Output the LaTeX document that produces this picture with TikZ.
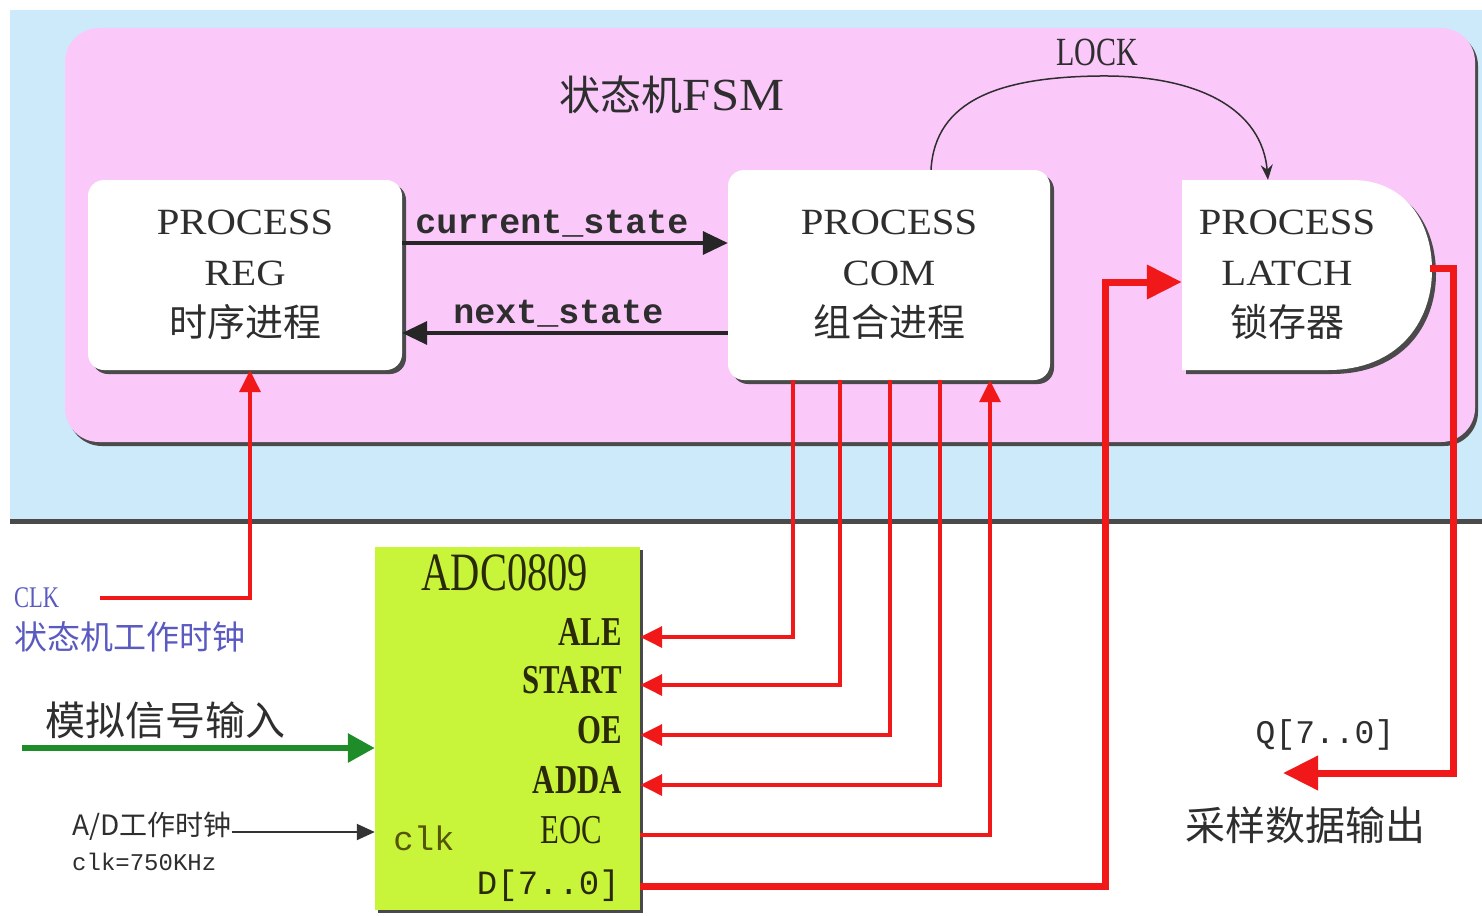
\documentclass[tikz,border=0pt]{standalone}
\usepackage{fontspec}
\setmainfont{Liberation Serif}
\setmonofont{Liberation Mono}
\newfontfamily\cjk{Noto Sans CJK SC}
\newfontfamily\condserif[FakeStretch=0.75]{Liberation Serif}
\newfontfamily\wideserif[FakeStretch=1.1]{Liberation Serif}
\usetikzlibrary{arrows.meta,positioning,shadows}
\definecolor{fsBlue}{HTML}{CCEAF9}
\definecolor{fsPink}{HTML}{FBC8FA}
\definecolor{fsShadow}{HTML}{4A4A4A}
\definecolor{adcLime}{HTML}{C8F43A}
\definecolor{sigRed}{HTML}{F01818}
\definecolor{clkBlue}{HTML}{5A5AC0}
\definecolor{anaGreen}{HTML}{1E8C28}
\definecolor{txtGray}{HTML}{2E2E2E}
\definecolor{adcInk}{HTML}{2A2A08}
\tikzset{
  fsmbox/.style={fill=fsPink, rounded corners=34pt, minimum width=1410pt, minimum height=414pt, drop shadow={shadow xshift=3pt, shadow yshift=-4pt, fill=fsShadow, opacity=1}},
  proctext/.style={inner sep=0pt, align=center, text=txtGray, font=\wideserif\fontsize{37}{51}\selectfont},
  proc/.style={proctext, fill=white, rounded corners=16pt, minimum width=314pt, minimum height=190pt, drop shadow={shadow xshift=4pt, shadow yshift=-4pt, fill=fsShadow, opacity=1}},
  fsmtitle/.style={inner sep=0pt, text=txtGray, font=\wideserif\fontsize{46}{46}\selectfont},
  locklbl/.style={inner sep=0pt, text=txtGray, font=\condserif\fontsize{40}{40}\selectfont},
  stlbl/.style={inner sep=2pt, text=txtGray, font=\ttfamily\bfseries\fontsize{35}{35}\selectfont},
  adcbox/.style={fill=adcLime, minimum width=265pt, minimum height=363pt, drop shadow={shadow xshift=3pt, shadow yshift=-3pt, fill=fsShadow, opacity=1}},
  adcname/.style={inner sep=0pt, text=adcInk, font=\condserif\fontsize{54}{54}\selectfont},
  portlbl/.style={anchor=east, inner sep=0pt, text height=28pt, text depth=12pt, text=adcInk, font=\condserif\bfseries\fontsize{41}{41}\selectfont},
  cnlbl/.style={inner sep=0pt, text=txtGray, font=\cjk\fontsize{40}{40}\selectfont},
  clklbl/.style={inner sep=0pt, text=clkBlue, font=\condserif\fontsize{30}{30}\selectfont},
  smalltxt/.style={inner sep=0pt, text=txtGray, font=\cjk\fontsize{28}{28}\selectfont},
  arr/.style={-{Triangle[length=25pt,width=23pt]}, line width=3.5pt, draw=black!85},
  lockarr/.style={-{Stealth[length=15pt,width=12pt]}, line width=1.5pt, draw=txtGray},
  sig/.style={-{Triangle[length=22pt,width=21pt]}, line width=3.5pt, draw=sigRed},
  bus/.style={-{Triangle[length=35pt,width=33pt]}, line width=7pt, draw=sigRed},
  ana/.style={-{Triangle[length=27pt,width=28pt]}, line width=6pt, draw=anaGreen},
  thinarr/.style={-{Triangle[length=18pt,width=16pt]}, line width=2pt, draw=black!80},
}
\begin{document}
\begin{tikzpicture}[x=1pt, y=-1pt]
  \useasboundingbox (0,0) rectangle (1482,915);
  % FSM part
  \fill[fsBlue] (10,10) rectangle (1482,519);
  \draw[line width=5pt, fsShadow] (10,521) -- (1482,521);
  \node[fsmbox] (fsm) at (770,235) {};
  \node[fsmtitle] (fsmname) at (672,95) {{\cjk\fontsize{41}{46}\selectfont 状态机}FSM};
  \node[proc] (reg) at (245,275) {PROCESS\\REG\\{\cjk\fontsize{38}{51}\selectfont 时序进程}};
  \node[proc, minimum width=322pt, minimum height=210pt] (com) at (889,275) {PROCESS\\COM\\{\cjk\fontsize{38}{51}\selectfont 组合进程}};
  \path[fill=white, drop shadow={shadow xshift=4pt, shadow yshift=-4pt, fill=fsShadow, opacity=1}]
    (1182,180) -- (1352,180) .. controls (1405,180) and (1432,222) .. (1432,270)
    .. controls (1432,322) and (1398,370) .. (1328,370) -- (1182,370) -- cycle;
  \node[proctext, minimum width=210pt, minimum height=190pt] (latch) at (1287,275) {PROCESS\\LATCH\\{\cjk\fontsize{38}{51}\selectfont 锁存器}};
  \node[locklbl] (lock) at (1097,52) {LOCK};
  \draw[lockarr] ([xshift=42pt]com.north) .. controls (935,100) and (1000,77) .. (1100,76) .. controls (1200,75) and (1262,110) .. ([xshift=-19pt]latch.north);
  \draw[arr] ([yshift=32pt]reg.east) -- node[stlbl, above=2pt, pos=0.46] (cslbl) {current\_state} ([yshift=32pt]com.west);
  \draw[arr] ([yshift=-58pt]com.west) -- node[stlbl, above=2pt, pos=0.52] (nslbl) {next\_state} ([yshift=-58pt]reg.east);

  % ADC0809
  \node[adcbox] (adc) at (507.5,728.5) {};
  \node[adcname] (adcname) at (505,573) {ADC0809};
  \node[portlbl] (ale) at (622,637) {ALE};
  \node[portlbl] (start) at (622,685) {START};
  \node[portlbl] (oe) at (622,735) {OE};
  \node[portlbl] (adda) at (622,785) {ADDA};
  \node[portlbl, font=\condserif\fontsize{41}{41}\selectfont] (eoc) at (602,835) {EOC};
  \node[portlbl, font=\ttfamily\fontsize{34}{34}\selectfont] (dout) at (620,886) {D[7..0]};
  \node[inner sep=0pt, text=adcInk!80!yellow, font=\ttfamily\fontsize{34}{34}\selectfont] (adcclk) at (424,838) {clk};

  % control and data lines
  \draw[sig] ([xshift=-96pt]com.south) |- (ale -| adc.east);
  \draw[sig] ([xshift=-49pt]com.south) |- (start -| adc.east);
  \draw[sig] ([xshift=1pt]com.south) |- (oe -| adc.east);
  \draw[sig] ([xshift=51pt]com.south) |- (adda -| adc.east);
  \draw[sig] (eoc -| adc.east) -| ([xshift=101pt]com.south);
  \coordinate (dbend) at (1105,282);
  \draw[bus] (dout -| adc.east) -| (dbend) -- (dbend -| latch.west);
  \coordinate (qout) at (1430,268);
  \coordinate (qcorner) at (1453,773);
  \coordinate (qend) at (1283,773);
  \draw[bus] (qout) -| (qcorner) -- (qend);
  \node[inner sep=0pt, text=txtGray, font=\ttfamily\fontsize{33}{33}\selectfont] (qname) at (1325,735) {Q[7..0]};
  \node[cnlbl] (qtext) at (1305,825) {采样数据输出};

  % inputs
  \node[clklbl, anchor=west] (clkname) at (14,598) {CLK};
  \node[clklbl, font=\cjk\fontsize{33}{33}\selectfont, anchor=west] (clktext) at (14,637) {状态机工作时钟};
  \draw[sig] ([xshift=41pt]clkname.east) -| ([xshift=5pt]reg.south);
  \node[cnlbl] (anatext) at (165,720) {模拟信号输入};
  \coordinate (anain) at (22,748);
  \draw[ana] (anain) -- (anain -| adc.west);
  \node[smalltxt, anchor=west] (adtext) at (72,826) {A/D工作时钟};
  \node[smalltxt, font=\ttfamily\fontsize{24}{24}\selectfont, anchor=west] (adfreq) at (72,862) {clk=750KHz};
  \coordinate (adin) at ([yshift=-6pt]adtext.east);
  \draw[thinarr] (adin) -- (adin -| adc.west);
\end{tikzpicture}
\end{document}
